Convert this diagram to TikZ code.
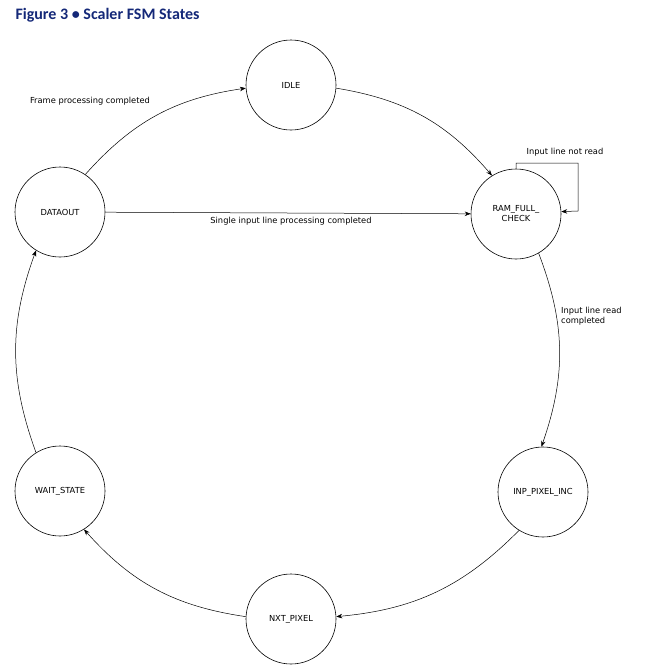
\documentclass[tikz,border=0pt]{standalone}
\usepackage{fontspec}
\setmainfont{DejaVu Sans}
\newfontfamily\titlef{Carlito}
\usetikzlibrary{arrows.meta}
\definecolor{tblue}{RGB}{20,40,120}
\begin{document}
\begin{tikzpicture}[x=1pt,y=-1pt,
  st/.style={circle,draw,line width=0.6pt,minimum size=90pt,inner sep=0pt,font=\fontsize{8.3}{10}\selectfont,align=center},
  ar/.style={draw,line width=0.5pt,-{Stealth[length=6pt,width=4.5pt]}},
  lb/.style={font=\fontsize{8.3}{10}\selectfont,inner sep=1pt}]
\useasboundingbox (0,0) rectangle (645,672);
\node[anchor=west,font=\titlef\bfseries\fontsize{16}{18}\selectfont,text=tblue] (t) at (12,15) {Figure 3 • Scaler FSM States};
\node[st] (idle) at (291,85) {IDLE};
\node[st] (ram) at (516,214) {RAM\_FULL\_\\CHECK};
\node[st] (dat) at (60,212) {DATAOUT};
\node[st] (inp) at (543,492) {INP\_PIXEL\_INC};
\node[st] (wait) at (60,491) {WAIT\_STATE};
\node[st] (nxt) at (291,619) {NXT\_PIXEL};
\draw[ar] (dat.56) to[bend left=20] (idle.184);
\draw[ar] (idle.-4) to[bend left=20] (ram.122);
\draw[ar] (dat) -- (ram);
\coordinate (l1) at (516,163); \coordinate (l2) at (578,163); \coordinate (l3) at (578,211);
\draw[ar] (ram.90) -- (l1) -- (l2) -- (l3) -- (ram.3);
\draw[ar] (ram.-60) to[bend left=20] (inp.92);
\draw[ar] (inp.-122) to[bend left=20] (nxt.3);
\draw[ar] (nxt.177) to[bend left=20] (wait.-58);
\draw[ar] (wait.122) to[bend left=20] (dat.-122);
\node[lb] (a) at (90,101) {Frame processing completed};
\node[lb] (b) at (291,221) {Single input line processing completed};
\node[lb] (c) at (565,152) {Input line not read};
\node[lb,anchor=west,align=left] (d) at (560,316) {Input line read\\completed};
\end{tikzpicture}
\end{document}
